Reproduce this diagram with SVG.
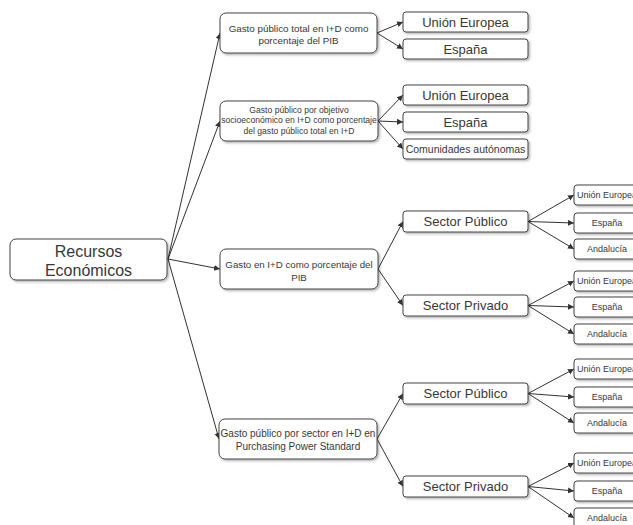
<svg xmlns="http://www.w3.org/2000/svg" width="633" height="525" viewBox="0 0 633 525">
<defs>
<style>
.box{fill:#fff;stroke:#444;stroke-width:1;filter:url(#sh)}
text{font-family:"Liberation Sans",Arial,sans-serif;fill:#383838;text-anchor:middle}
.c line{stroke:#333;stroke-width:1;marker-end:url(#ah)}
</style>
<filter id="sh" x="-10%" y="-20%" width="130%" height="160%">
<feDropShadow dx="1.5" dy="1.5" stdDeviation="1" flood-color="#000" flood-opacity="0.3"/>
</filter>
<marker id="ah" markerUnits="userSpaceOnUse" markerWidth="7" markerHeight="7" refX="6" refY="3" orient="auto">
<path d="M0,0 L6,3 L0,6 z" fill="#333"/>
</marker>
</defs>
<rect width="633" height="525" fill="#fff"/>
<g class="c" id="connectors">
<line x1="168" y1="259" x2="220" y2="33"/>
<line x1="168" y1="259" x2="220" y2="121"/>
<line x1="168" y1="259" x2="220" y2="269"/>
<line x1="168" y1="259" x2="219" y2="439"/>
<line x1="377" y1="33" x2="403" y2="22"/>
<line x1="377" y1="33" x2="403" y2="49"/>
<line x1="378" y1="121" x2="403" y2="95"/>
<line x1="378" y1="121" x2="403" y2="122"/>
<line x1="378" y1="121" x2="403" y2="149"/>
<line x1="378" y1="269" x2="403" y2="221.5"/>
<line x1="378" y1="269" x2="403" y2="305.5"/>
<line x1="377" y1="439" x2="403" y2="393.5"/>
<line x1="377" y1="439" x2="403" y2="486.5"/>
<line x1="528" y1="221.5" x2="574" y2="195"/>
<line x1="528" y1="221.5" x2="574" y2="223"/>
<line x1="528" y1="221.5" x2="574" y2="249"/>
<line x1="528" y1="305.5" x2="574" y2="281"/>
<line x1="528" y1="305.5" x2="574" y2="307"/>
<line x1="528" y1="305.5" x2="574" y2="334"/>
<line x1="528" y1="393.5" x2="574" y2="369"/>
<line x1="528" y1="393.5" x2="574" y2="397"/>
<line x1="528" y1="393.5" x2="574" y2="423"/>
<line x1="528" y1="486.5" x2="574" y2="463"/>
<line x1="528" y1="486.5" x2="574" y2="491"/>
<line x1="528" y1="486.5" x2="574" y2="518"/>
</g>
<g id="root"><rect class="box" x="10" y="239" width="157" height="41" rx="6"/>
<text x="88.5" y="257" font-size="16">Recursos</text><text x="88.5" y="276" font-size="16">Económicos</text></g>
<g id="nA"><rect class="box" x="220" y="13" width="157" height="40" rx="6"/>
<text x="298.5" y="31.5" font-size="9.8">Gasto público total en I+D como</text><text x="298.5" y="43.5" font-size="9.8">porcentaje del PIB</text></g>
<g id="nB"><rect class="box" x="220" y="101" width="158" height="40" rx="6"/>
<text x="299" y="113" font-size="8.6">Gasto público por objetivo</text><text x="299" y="123.3" font-size="8.6">socioeconómico en I+D como porcentaje</text><text x="299" y="134" font-size="8.6">del gasto público total en I+D</text></g>
<g id="nC"><rect class="box" x="220" y="249" width="158" height="40" rx="6"/>
<text x="299" y="267.5" font-size="9.7">Gasto en I+D como porcentaje del</text><text x="299" y="280.5" font-size="9.7">PIB</text></g>
<g id="nD"><rect class="box" x="219" y="419" width="158" height="40" rx="6"/>
<text x="298" y="436.5" font-size="10">Gasto público por sector en I+D en</text><text x="298" y="449.5" font-size="10">Purchasing Power Standard</text></g>
<g id="nA1"><rect class="box" x="403" y="12" width="125" height="20" rx="3"/><text x="465.5" y="26.5" font-size="13">Unión Europea</text></g>
<g id="nA2"><rect class="box" x="403" y="39" width="125" height="20" rx="3"/><text x="465.5" y="53.5" font-size="13">España</text></g>
<g id="nB1"><rect class="box" x="403" y="85" width="125" height="20" rx="3"/><text x="465.5" y="99.5" font-size="13">Unión Europea</text></g>
<g id="nB2"><rect class="box" x="403" y="112" width="125" height="20" rx="3"/><text x="465.5" y="126.5" font-size="13">España</text></g>
<g id="nB3"><rect class="box" x="403" y="139" width="125" height="20" rx="3"/><text x="465.5" y="152.7" font-size="10.5">Comunidades autónomas</text></g>
<g id="nC1"><rect class="box" x="403" y="211" width="125" height="21" rx="3"/><text x="465.5" y="226" font-size="13">Sector Público</text></g>
<g id="nC2"><rect class="box" x="403" y="295" width="125" height="21" rx="3"/><text x="465.5" y="310" font-size="13">Sector Privado</text></g>
<g id="nD1"><rect class="box" x="403" y="383" width="125" height="21" rx="3"/><text x="465.5" y="398" font-size="13">Sector Público</text></g>
<g id="nD2"><rect class="box" x="403" y="476" width="125" height="21" rx="3"/><text x="465.5" y="491" font-size="13">Sector Privado</text></g>
<g id="nC1a"><rect class="box" x="574" y="185" width="66" height="20" rx="3"/><text x="607" y="198.2" font-size="9">Unión Europea</text></g>
<g id="nC1b"><rect class="box" x="574" y="213" width="66" height="20" rx="3"/><text x="607" y="226.2" font-size="9">España</text></g>
<g id="nC1c"><rect class="box" x="574" y="239" width="66" height="20" rx="3"/><text x="607" y="252.2" font-size="9">Andalucía</text></g>
<g id="nC2a"><rect class="box" x="574" y="271" width="66" height="20" rx="3"/><text x="607" y="284.2" font-size="9">Unión Europea</text></g>
<g id="nC2b"><rect class="box" x="574" y="297" width="66" height="20" rx="3"/><text x="607" y="310.2" font-size="9">España</text></g>
<g id="nC2c"><rect class="box" x="574" y="324" width="66" height="20" rx="3"/><text x="607" y="337.2" font-size="9">Andalucía</text></g>
<g id="nD1a"><rect class="box" x="574" y="359" width="66" height="20" rx="3"/><text x="607" y="372.2" font-size="9">Unión Europea</text></g>
<g id="nD1b"><rect class="box" x="574" y="387" width="66" height="20" rx="3"/><text x="607" y="400.2" font-size="9">España</text></g>
<g id="nD1c"><rect class="box" x="574" y="413" width="66" height="20" rx="3"/><text x="607" y="426.2" font-size="9">Andalucía</text></g>
<g id="nD2a"><rect class="box" x="574" y="453" width="66" height="20" rx="3"/><text x="607" y="466.2" font-size="9">Unión Europea</text></g>
<g id="nD2b"><rect class="box" x="574" y="481" width="66" height="20" rx="3"/><text x="607" y="494.2" font-size="9">España</text></g>
<g id="nD2c"><rect class="box" x="574" y="508" width="66" height="20" rx="3"/><text x="607" y="521.2" font-size="9">Andalucía</text></g>
</svg>
